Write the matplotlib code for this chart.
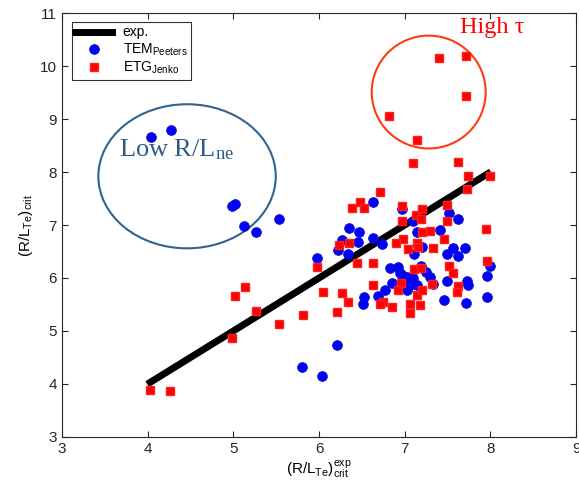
import matplotlib.pyplot as plt
from matplotlib.patches import Ellipse

plt.rcParams["font.family"] = ["Liberation Sans", "DejaVu Sans"]
plt.rcParams["mathtext.fontset"] = "custom"
plt.rcParams["mathtext.rm"] = "Liberation Sans"
plt.rcParams["mathtext.it"] = "Liberation Sans"

# experimental line (y = x)
exp_x = [4.03, 7.97]
exp_y = [4.03, 7.97]

# TEM (Peeters) points
tem_x = [4.04, 4.27, 4.98, 5.02, 5.12, 5.26, 5.53, 5.98, 5.80, 6.03, 6.21,
         6.63, 6.97, 7.10, 6.35, 6.47, 6.63, 6.73, 6.27, 6.45, 6.22, 6.34,
         6.83, 6.92, 6.97, 7.10, 6.85, 6.77, 6.69, 6.52, 6.51, 7.03, 7.14,
         7.52, 7.62, 7.41, 7.14, 7.20, 7.11, 7.56, 7.70, 7.49, 7.62, 8.00,
         7.96, 7.19, 7.29, 7.03, 7.33, 7.49, 7.73, 7.74, 7.46, 7.71, 7.96,
         6.94, 7.25, 7.05]
tem_y = [8.66, 8.80, 7.36, 7.40, 6.98, 6.87, 7.11, 6.38, 4.32, 4.15, 4.74,
         7.43, 7.30, 7.08, 6.94, 6.87, 6.75, 6.64, 6.72, 6.68, 6.53, 6.45,
         6.19, 6.21, 6.06, 6.00, 5.91, 5.77, 5.66, 5.64, 5.51, 5.77, 5.87,
         7.23, 7.11, 6.91, 6.87, 6.58, 6.45, 6.57, 6.57, 6.45, 6.42, 6.23,
         6.04, 6.23, 6.02, 6.02, 5.89, 5.94, 5.94, 5.87, 5.58, 5.53, 5.64,
         6.09, 6.12, 5.85]

# ETG (Jenko) points
etg_x = [4.03, 4.26, 4.98, 5.02, 5.14, 5.26, 5.53, 5.81, 5.98, 6.05, 6.27,
         6.34, 6.21, 6.23, 6.35, 6.44, 6.63, 6.63, 6.71, 6.38, 6.48, 6.52,
         6.97, 6.97, 7.13, 6.98, 6.90, 7.14, 7.04, 7.11, 6.96, 6.92, 6.75,
         6.85, 7.06, 7.06, 6.71, 7.14, 7.10, 7.62, 7.74, 8.00, 7.73, 7.49,
         7.20, 7.19, 7.49, 7.95, 7.29, 7.20, 7.46, 7.15, 7.33, 7.96, 7.52,
         7.19, 7.56, 7.32, 7.62, 7.61, 7.20, 7.18, 7.40, 7.71, 7.71, 6.82,
         7.14]
etg_y = [3.88, 3.86, 4.87, 5.66, 5.83, 5.38, 5.13, 5.30, 6.21, 5.74, 5.72,
         5.55, 5.36, 6.62, 6.66, 6.28, 6.28, 5.87, 7.62, 7.32, 7.43, 7.32,
         7.36, 7.08, 7.19, 6.74, 6.66, 6.66, 6.55, 6.17, 5.91, 5.77, 5.55,
         5.45, 5.51, 5.34, 5.51, 5.68, 8.17, 8.19, 7.92, 7.92, 7.68, 7.38,
         7.30, 7.11, 7.08, 6.92, 6.89, 6.87, 6.74, 6.58, 6.57, 6.32, 6.23,
         6.19, 6.09, 5.89, 5.85, 5.74, 5.77, 5.49, 10.16, 10.19, 9.43, 9.06,
         8.60]

fig = plt.figure(figsize=(5.79, 4.86), dpi=100)
ax = fig.add_axes([0.107, 0.101, 0.888, 0.872])

ax.plot(exp_x, exp_y, color="black", linewidth=5, label="exp.", zorder=2)
ax.plot(tem_x, tem_y, "o", color="blue", markersize=7, markeredgecolor="#1010c0",
        markeredgewidth=0.6, label=r"TEM$_{\mathregular{Peeters}}$", zorder=3)
ax.plot(etg_x, etg_y, "s", color="red", markersize=5.5, markeredgecolor="#ff2020",
        label=r"ETG$_{\mathregular{Jenko}}$", zorder=4)

# highlighted regions
ax.add_patch(Ellipse((7.28, 9.51), 1.33, 2.13, fill=False, edgecolor="#ff3a14", linewidth=1.5))
ax.add_patch(Ellipse((4.46, 7.92), 2.07, 2.72, fill=False, edgecolor="#2f6390", linewidth=1.5))
ax.text(8.02, 10.72, "High \u03c4", color="red", fontsize=17.5, family="Liberation Serif",
        ha="center", va="center")
ax.text(3.67, 8.42, r"Low R/L$_{\mathregular{ne}}$", color="#2f5a85", fontsize=19,
        family="Liberation Serif", ha="left", va="center", math_fontfamily="stix")

ax.set_xlim(3, 9)
ax.set_ylim(3, 11)
ax.set_xticks(range(3, 10))
ax.set_yticks(range(3, 12))
ax.tick_params(direction="in", top=True, right=True, length=4, labelsize=11, colors="#262626")
for s in ax.spines.values():
    s.set_color("#262626")

ax.set_xlabel(r"(R/L$_{\mathregular{Te}}$)$_{\mathregular{crit}}^{\mathregular{exp}}$", fontsize=11, labelpad=2)
ax.set_ylabel(r"(R/L$_{\mathregular{Te}}$)$_{\mathregular{crit}}$", fontsize=11, labelpad=4)

leg = ax.legend(loc="upper left", fontsize=10, frameon=True, fancybox=False,
                edgecolor="black", borderpad=0.25, handlelength=2.6, labelspacing=0.15,
                borderaxespad=0, bbox_to_anchor=(0.0195, 0.979))
leg.get_frame().set_linewidth(0.8)

fig.savefig("out.png")
